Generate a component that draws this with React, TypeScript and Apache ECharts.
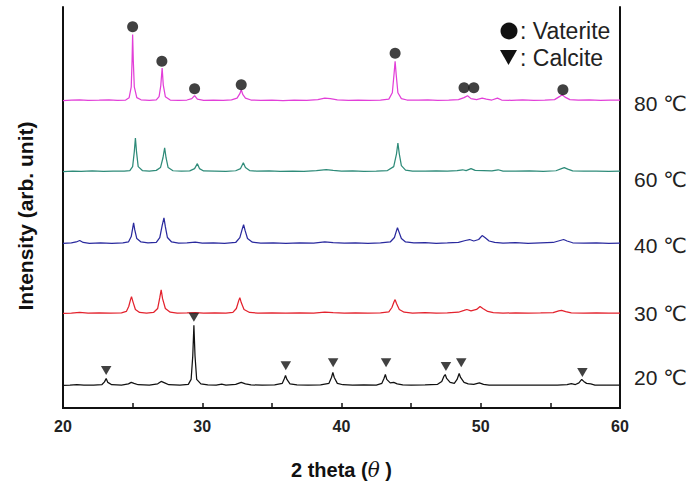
import React, { useEffect, useRef } from "react";
import * as echarts from "echarts";

// 2θ range and ticks
const xTicks = [20, 30, 40, 50, 60];

// Temperature labels (top to bottom) and vertical offsets of each pattern
const tempLabels = ["80 ℃", "60 ℃", "40 ℃", "30 ℃", "20 ℃"];
const offsets = [312, 240, 167, 96, 23];
const colors = ["#e23fd8", "#2e8b79", "#2a2a9e", "#e3222d", "#111111"];
const labelShift = [3.5, 8, 2.5, 0, -7.5];

// Patterns: [2θ, relative intensity]
const p80 = [
  [20, 0], [20.6, 0.4], [21.2, 0.8], [21.8, 0.2], [22.6, 0.5], [23.3, 0.8], [23.9, 0.2], [24.5, 0.6],
  [24.75, 3], [24.9, 14], [24.96, 40], [25.0, 67], [25.05, 40], [25.12, 14], [25.3, 3], [25.6, 0.8],
  [26.2, 0.3], [26.7, 0.8], [26.9, 4], [27.02, 15], [27.12, 33], [27.2, 16], [27.35, 4], [27.7, 0.6],
  [28.3, 0.2], [28.9, 0.6], [29.25, 2], [29.45, 5], [29.65, 1.5], [30.1, 0.3], [30.8, 0.5], [31.5, 0.2], [32.1, 0.7],
  [32.5, 2.5], [32.7, 7], [32.8, 11], [32.92, 6], [33.1, 2.5], [33.5, 0.6], [34.2, 0.2], [35.0, 0.6], [35.8, 0.1], [36.6, 0.5], [37.5, 0.3],
  [38.3, 1], [38.8, 2.5], [39.2, 2], [39.7, 0.7], [40.5, 0.3], [41.2, 0.5], [42.0, 0.2], [42.8, 0.6], [43.4, 1.5],
  [43.65, 8], [43.78, 28], [43.85, 40], [43.93, 26], [44.05, 8], [44.3, 2], [44.7, 0.6], [45.5, 0.4], [46.2, 0.7], [46.9, 0.2], [47.7, 0.5], [48.4, 1],
  [48.8, 3], [49.05, 5], [49.3, 2], [49.7, 1], [50.1, 2.5], [50.4, 1.5], [50.8, 0.6], [51.2, 2.5], [51.5, 0.6], [52.2, 0.3], [53.0, 0.7], [53.8, 0.2], [54.6, 0.5], [55.3, 1],
  [55.65, 4], [55.85, 6], [56.05, 3.5], [56.4, 1], [57.0, 0.4], [57.8, 0.7], [58.6, 0.3], [59.3, 0.6], [60, 0.5],
];

const p60 = [
  [20, 0], [20.7, 0.5], [21.3, 0.2], [22.1, 0.6], [22.9, 0.1], [23.6, 0.5], [24.4, 0.3], [24.8, 1],
  [25.0, 5], [25.12, 20], [25.2, 34], [25.28, 20], [25.4, 5], [25.7, 1], [26.2, 0.4], [26.7, 1.2],
  [27.0, 4], [27.18, 14], [27.3, 24], [27.4, 14], [27.55, 4], [27.9, 0.8],
  [28.5, 0.3], [29.1, 0.7], [29.45, 3], [29.65, 8], [29.8, 3], [30.1, 0.6], [30.9, 0.4], [31.7, 0.2], [32.4, 0.8],
  [32.75, 3], [32.95, 9], [33.1, 4], [33.4, 1], [33.9, 0.3], [34.8, 0.6], [35.6, 0.2], [36.5, 0.5], [37.3, 0.2],
  [38.2, 0.9], [38.9, 2], [39.4, 1.2], [40.0, 0.4], [40.8, 0.6], [41.6, 0.2], [42.5, 0.5], [43.3, 1],
  [43.75, 5], [43.95, 18], [44.05, 29], [44.15, 18], [44.3, 6], [44.6, 1.5], [45.1, 0.5], [46.0, 0.3], [46.8, 0.6], [47.6, 0.3],
  [48.3, 1], [48.7, 1.8], [48.95, 1], [49.3, 3], [49.6, 1.2], [50.2, 1], [50.8, 0.6], [51.25, 1.8], [51.6, 0.5], [52.5, 0.3], [53.5, 0.6], [54.5, 0.2], [55.4, 0.8],
  [55.8, 3], [56.0, 4], [56.25, 2.5], [56.6, 0.6], [57.4, 0.3], [58.3, 0.5], [59.2, 0.2], [60, 0.3],
];

const p40 = [
  [20, 0], [20.6, 0.5], [20.95, 1.5], [21.2, 3], [21.45, 1], [21.9, 0.2], [22.7, 0.6], [23.5, 0.2], [24.3, 0.5], [24.7, 1.5],
  [24.9, 7], [25.0, 15], [25.07, 21], [25.15, 14], [25.3, 5], [25.6, 1.5], [26.1, 0.5], [26.7, 1.2],
  [26.95, 6], [27.12, 18], [27.25, 26], [27.35, 17], [27.5, 6], [27.8, 1.5], [28.3, 0.4], [28.9, 0.6], [29.5, 1.3], [30.0, 0.3], [30.8, 0.7], [31.6, 0.2], [32.4, 1],
  [32.7, 6], [32.88, 15], [32.97, 19], [33.08, 13], [33.25, 5], [33.6, 1.3], [34.2, 0.4], [35.1, 0.6], [36.0, 0.2], [37.0, 0.6], [38.0, 0.3],
  [38.8, 1.5], [39.4, 0.8], [40.2, 0.3], [41.0, 0.6], [41.9, 0.2], [42.8, 0.5], [43.5, 1.5],
  [43.8, 6], [43.95, 13], [44.02, 16], [44.12, 12], [44.3, 5], [44.6, 1.5], [45.2, 0.5], [46.0, 0.8], [46.8, 0.2], [47.6, 0.6], [48.4, 1.2],
  [48.9, 3], [49.2, 4], [49.5, 2.5], [49.85, 4], [50.1, 8], [50.3, 6], [50.6, 2.5], [51.0, 1], [51.6, 0.4], [52.5, 0.8], [53.4, 0.2], [54.3, 0.6], [55.2, 1],
  [55.7, 3], [55.95, 4], [56.2, 2.5], [56.6, 0.7], [57.4, 0.3], [58.3, 0.6], [59.2, 0.2], [60, 0.4],
];

const p30 = [
  [20, 0], [20.6, 0.4], [21.2, 1], [21.8, 0.3], [22.6, 0.5], [23.4, 0.2], [24.2, 0.6], [24.55, 2],
  [24.72, 7], [24.85, 14], [24.92, 17], [25.02, 12], [25.2, 4], [25.5, 1], [26.0, 0.4], [26.5, 1],
  [26.8, 5], [26.95, 16], [27.05, 24], [27.15, 15], [27.35, 5], [27.7, 1.2], [28.2, 0.4], [28.9, 0.6], [29.5, 0.9], [30.1, 0.3], [30.9, 0.6], [31.7, 0.2], [32.2, 1],
  [32.45, 5], [32.62, 13], [32.7, 16], [32.8, 11], [33.0, 4], [33.4, 1], [34.0, 0.3], [35.0, 0.6], [36.0, 0.2], [37.0, 0.5], [38.0, 0.2],
  [38.8, 1.3], [39.4, 0.7], [40.2, 0.3], [41.0, 0.5], [41.9, 0.2], [42.8, 0.6], [43.4, 1.5],
  [43.62, 6], [43.78, 12], [43.85, 14], [43.95, 10], [44.15, 4], [44.5, 1.2], [45.1, 0.4], [46.0, 0.7], [46.8, 0.2], [47.6, 0.5], [48.4, 1.2],
  [48.8, 3], [49.0, 4], [49.3, 2.5], [49.7, 4], [49.95, 7], [50.15, 5], [50.5, 2], [50.9, 0.8], [51.6, 0.3], [52.5, 0.6], [53.4, 0.2], [54.3, 0.5], [55.2, 0.9],
  [55.6, 2.5], [55.8, 3], [56.1, 1.8], [56.5, 0.5], [57.4, 0.2], [58.3, 0.5], [59.2, 0.2], [60, 0.3],
];

const p20 = [
  [20, 0], [20.5, 0.3], [21.0, 0.8], [21.5, 0.1], [22.2, 0.3], [22.8, 0.8], [22.98, 3.5], [23.1, 7], [23.22, 3], [23.5, 0.6],
  [24.2, 0.3], [24.7, 1.5], [24.9, 3], [25.1, 2], [25.4, 0.6], [26.2, 0.3], [26.8, 1.5], [27.05, 4], [27.3, 2.5], [27.6, 0.6], [28.4, 0.3], [29.0, 1],
  [29.2, 6], [29.32, 30], [29.4, 61], [29.48, 30], [29.6, 6], [29.9, 1.5], [30.4, 0.4], [31.0, 0.3], [31.4, 1.2], [31.7, 0.3],
  [32.4, 1], [32.8, 3], [33.1, 1.5], [33.5, 0.4], [34.3, 0.2], [35.2, 0.4], [35.75, 2], [35.9, 7], [35.98, 10], [36.08, 6], [36.3, 1.5],
  [36.8, 0.4], [37.6, 0.2], [38.5, 0.4], [39.1, 2], [39.28, 8], [39.38, 13], [39.48, 8], [39.7, 2], [40.1, 0.6], [40.8, 0.2], [41.6, 0.4], [42.5, 0.3],
  [42.9, 2], [43.05, 7], [43.15, 11], [43.25, 6], [43.5, 2.5], [43.75, 3], [44.0, 1.5], [44.4, 0.5], [45.0, 0.2], [46.0, 0.4], [46.9, 1],
  [47.2, 4], [47.35, 9], [47.45, 11], [47.55, 7], [47.8, 3], [48.1, 2], [48.3, 6], [48.45, 12], [48.55, 8], [48.8, 3], [49.1, 1.5],
  [49.5, 1], [49.9, 2.5], [50.2, 1], [50.6, 0.3], [51.5, 0.2], [52.5, 0.3], [53.5, 0.2], [54.5, 0.3], [55.5, 0.3],
  [56.2, 0.8], [56.5, 1.8], [56.8, 0.8], [57.05, 2.5], [57.25, 6], [57.4, 4], [57.6, 2], [57.9, 1.5], [58.2, 0.3], [59, 0.2], [60, 0.2],
];

const patterns = [p80, p60, p40, p30, p20];

// Phase markers: [2θ, position on stacked intensity axis]
const vateriteMarks = [
  [25.0, 387], [27.1, 352], [29.45, 324], [32.8, 328], [43.85, 360], [48.8, 325], [49.5, 325], [55.9, 323],
];
const calciteMarks = [
  [23.1, 38], [29.4, 92], [36.0, 43], [39.4, 46], [43.2, 46], [47.5, 42], [48.6, 46], [57.3, 36],
];

const legendTexts = [": Vaterite", ": Calcite"];
const yTitle = "Intensity (arb. unit)";

export default function App() {
  const ref = useRef<HTMLDivElement>(null);
  useEffect(() => {
    document.body.style.margin = "0";
    const chart = echarts.init(ref.current!, null, { renderer: "svg" });
    const axisColor = "#111";
    const lineSeries = patterns.map((p, i) => ({
      type: "line",
      data: p.map(([x, y]) => [x, y + offsets[i]]),
      showSymbol: false,
      symbol: "none",
      lineStyle: { color: colors[i], width: 1.25 },
      itemStyle: { color: colors[i] },
      z: 2,
      endLabel: {
        show: true,
        formatter: tempLabels[i],
        distance: 14,
        offset: [0, labelShift[i]],
        fontSize: 21,
        fontWeight: "normal",
        fontFamily: "Liberation Sans, DejaVu Sans, sans-serif",
        color: "#222",
      },
    }));
    const legendStyle = {
      fontSize: 23,
      fill: "#222",
      verticalAlign: "middle",
      fontFamily: "Liberation Sans, Arial",
    };
    chart.setOption({
      animation: false,
      backgroundColor: "#fff",
      grid: { left: 63, top: 7, width: 557, height: 407 },
      xAxis: [
        {
          type: "value",
          min: xTicks[0],
          max: xTicks[xTicks.length - 1],
          interval: 10,
          axisLine: { lineStyle: { color: axisColor, width: 2 } },
          axisTick: { inside: true, length: 5, lineStyle: { color: axisColor, width: 1.5 } },
          minorTick: { show: true, splitNumber: 2, length: 5, lineStyle: { color: axisColor, width: 1.5 } },
          splitLine: { show: false },
          axisLabel: {
            fontSize: 16,
            fontWeight: "bold",
            color: "#222",
            margin: 10,
            fontFamily: "Liberation Sans, Arial",
          },
          name: "2 theta ({it|θ} )",
          nameLocation: "middle",
          nameGap: 52,
          nameTextStyle: {
            fontSize: 20,
            fontWeight: "bold",
            color: "#111",
            fontFamily: "Liberation Sans, Arial",
            rich: {
              it: { fontSize: 20, fontStyle: "italic", fontWeight: "normal", color: "#111", fontFamily: "DejaVu Serif" },
            },
          },
        },
        {
          type: "value",
          position: "top",
          min: xTicks[0],
          max: xTicks[xTicks.length - 1],
          axisLine: { show: true, lineStyle: { color: axisColor, width: 2 } },
          axisTick: { show: false },
          axisLabel: { show: false },
          splitLine: { show: false },
        },
      ],
      yAxis: [
        {
          type: "value",
          min: 0,
          max: 407,
          axisLine: { show: true, lineStyle: { color: axisColor, width: 2 } },
          axisTick: { show: false },
          axisLabel: { show: false },
          splitLine: { show: false },
        },
        {
          type: "value",
          position: "right",
          min: 0,
          max: 407,
          axisLine: { show: true, lineStyle: { color: axisColor, width: 2 } },
          axisTick: { show: false },
          axisLabel: { show: false },
          splitLine: { show: false },
        },
      ],
      series: [
        ...lineSeries,
        {
          type: "scatter",
          data: vateriteMarks,
          symbol: "circle",
          symbolSize: 11,
          itemStyle: { color: "#111" },
          z: 5,
        },
        {
          type: "scatter",
          data: calciteMarks,
          symbol: "path://M0,0L10,0L5,8.5Z",
          symbolSize: [10.5, 9],
          itemStyle: { color: "#111" },
          z: 5,
        },
      ],
      graphic: [
        {
          type: "text",
          x: 25,
          y: 216,
          rotation: Math.PI / 2,
          style: {
            text: yTitle,
            fontSize: 21,
            fontWeight: "bold",
            fill: "#111",
            align: "center",
            verticalAlign: "middle",
            fontFamily: "Liberation Sans, Arial",
          },
        },
        { type: "circle", shape: { cx: 509, cy: 31, r: 8.5 }, style: { fill: "#111" } },
        {
          type: "polygon",
          shape: { points: [[500, 50], [517, 50], [508.5, 65]] },
          style: { fill: "#111" },
        },
        { type: "text", x: 520, y: 30.5, style: { ...legendStyle, text: legendTexts[0] } },
        { type: "text", x: 520, y: 57.5, style: { ...legendStyle, text: legendTexts[1] } },
      ],
    });
    return () => chart.dispose();
  }, []);
  return <div ref={ref} style={{ width: 696, height: 485 }} />;
}
